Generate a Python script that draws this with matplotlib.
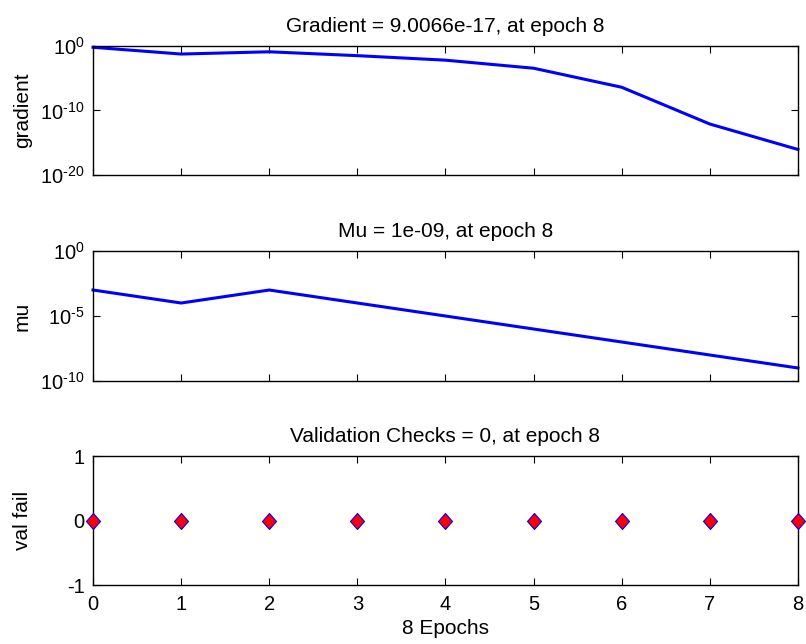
import math
import matplotlib
matplotlib.use("Agg")
import matplotlib.pyplot as plt
from matplotlib.path import Path
from matplotlib.ticker import FixedLocator, NullLocator, FuncFormatter

plt.rcParams['font.family'] = ['Liberation Sans', 'DejaVu Sans']
plt.rcParams['mathtext.fontset'] = 'custom'
plt.rcParams['mathtext.rm'] = 'Liberation Sans'
plt.rcParams['mathtext.it'] = 'Liberation Sans'

# Training record
epochs = [0, 1, 2, 3, 4, 5, 6, 7, 8]
gradient = [10**-0.2, 10**-1.25, 10**-0.9, 10**-1.5, 10**-2.2,
            10**-3.45, 10**-6.4, 10**-12.1, 9.0066e-17]
mu = [1e-3, 1e-4, 1e-3, 1e-4, 1e-5, 1e-6, 1e-7, 1e-8, 1e-9]
val_fail = [0, 0, 0, 0, 0, 0, 0, 0, 0]

titles = ["Gradient = 9.0066e-17, at epoch 8",
          "Mu = 1e-09, at epoch 8",
          "Validation Checks = 0, at epoch 8"]
ylabels = ["gradient", "mu", "val fail"]
xlabel = "8 Epochs"

fig = plt.figure(figsize=(8.06, 6.44), dpi=100)
left, width = 0.1154, 0.8746
ax1 = fig.add_axes([left, 0.7283, width, 0.2003])
ax2 = fig.add_axes([left, 0.4084, width, 0.2018])
ax3 = fig.add_axes([left, 0.0916, width, 0.2003])

fs = 15
tfs = 14.5
blue = '#0000ff'

# slightly tall diamond marker
diamond = Path([(0, 1), (0.875, 0), (0, -1), (-0.875, 0), (0, 1)],
               [Path.MOVETO, Path.LINETO, Path.LINETO, Path.LINETO,
                Path.CLOSEPOLY])


def pow10(v, pos):
    e = int(round(math.log10(v)))
    return r"$10^{\text{%d}}$" % e


def style(ax):
    ax.set_xlim(0, 8)
    ax.xaxis.set_major_locator(FixedLocator(epochs))
    ax.tick_params(direction='in', top=True, right=True, length=5,
                   width=0.8, labelsize=tfs)
    ax.tick_params(axis='x', pad=7)
    ax.tick_params(axis='y', pad=6)
    ax.tick_params(which='minor', length=0)
    for s in ax.spines.values():
        s.set_linewidth(1.0)


# Gradient
ax1.semilogy(epochs, gradient, color=blue, lw=2.2, clip_on=False)
ax1.set_ylim(1e-20, 1e0)
ax1.yaxis.set_major_locator(FixedLocator([1e-20, 1e-10, 1e0]))
ax1.yaxis.set_minor_locator(NullLocator())
ax1.yaxis.set_major_formatter(FuncFormatter(pow10))
style(ax1)
ax1.set_xticklabels([])
ax1.set_title(titles[0], fontsize=fs, pad=10)
ax1.set_ylabel(ylabels[0], fontsize=fs)

# Mu
ax2.semilogy(epochs, mu, color=blue, lw=2.2, clip_on=False)
ax2.set_ylim(1e-10, 1e0)
ax2.yaxis.set_major_locator(FixedLocator([1e-10, 1e-5, 1e0]))
ax2.yaxis.set_minor_locator(NullLocator())
ax2.yaxis.set_major_formatter(FuncFormatter(pow10))
style(ax2)
ax2.set_xticklabels([])
ax2.set_title(titles[1], fontsize=fs, pad=10)
ax2.set_ylabel(ylabels[1], fontsize=fs)

# Validation checks
ax3.plot(epochs, val_fail, linestyle='none', marker=diamond, ms=11.5,
         markerfacecolor='red', markeredgecolor=blue, markeredgewidth=0.8,
         clip_on=False, zorder=5)
ax3.set_ylim(-1, 1)
ax3.set_yticks([-1, 0, 1])
ax3.set_yticklabels(['-1', '0', '1'])
style(ax3)
ax3.set_xticklabels([str(e) for e in epochs])
ax3.set_title(titles[2], fontsize=fs, pad=10)
ax3.set_ylabel(ylabels[2], fontsize=fs)
ax3.set_xlabel(xlabel, fontsize=fs, labelpad=4)

for ax in (ax1, ax2, ax3):
    ax.yaxis.set_label_coords(-0.0865, 0.5)

fig.savefig("out.png", dpi=100)
